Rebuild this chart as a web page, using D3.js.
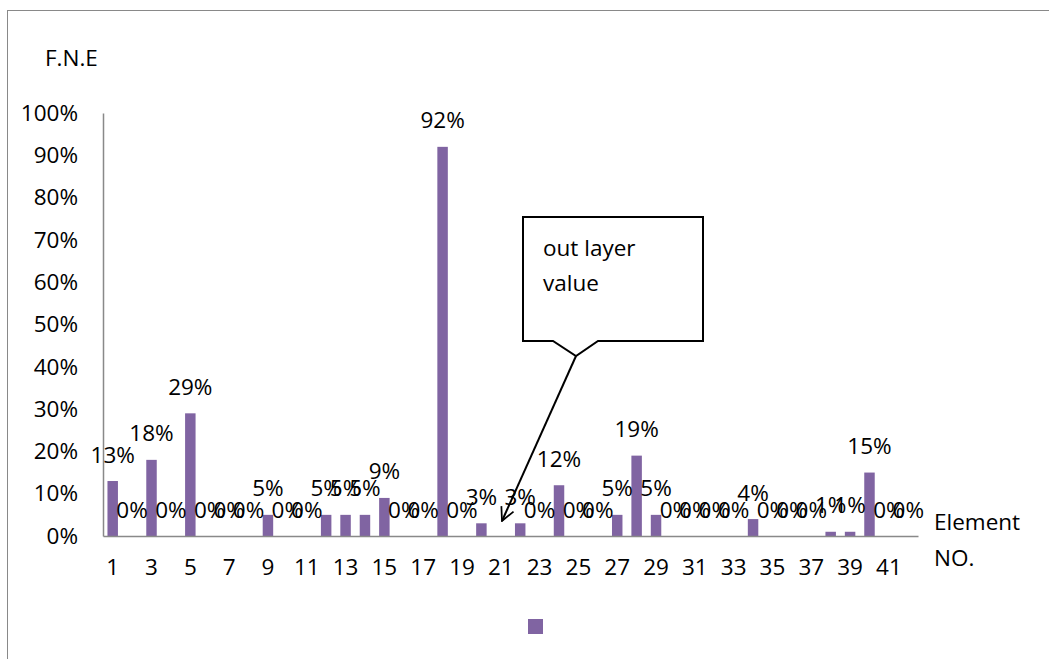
<!DOCTYPE html>
<html>
<head>
<meta charset="utf-8">
<script src="https://cdn.jsdelivr.net/npm/d3@7"></script>
<style>
  html, body { margin: 0; padding: 0; background: #fff; }
  svg text { font-family: "Open Sans", "Noto Sans", sans-serif; fill: #000; }
</style>
</head>
<body>
<svg id="chart" width="1049" height="659"></svg>
<script>
// Element numbers along the x axis
const elements = d3.range(1, 43);
// F.N.E per element, in percent (null = no value recorded)
const fne = [13, 0, 18, 0, 29, 0, 0, 0, 5, 0,
             0, 5, 5, 5, 9, 0, 0, 92, 0, 3,
             null, 3, 0, 12, 0, 0, 5, 19, 5, 0,
             0, 0, 0, 4, 0, 0, 0, 1, 1, 15,
             0, 0];
// Labelled x ticks (every other element)
const xTicks = d3.range(1, 43, 2);
const yTicks = d3.range(0, 101, 10);

const svg = d3.select("#chart");
const purple = "#8064A2";
const axisGray = "#898989";
const fontSize = "22.5px";

// outer chart frame
svg.append("rect")
  .attr("x", 7.5).attr("y", 10.5)
  .attr("width", 1060).attr("height", 680)
  .attr("fill", "none").attr("stroke", axisGray).attr("stroke-width", 1);

const x = d3.scaleBand().domain(elements).range([103, 918]).paddingInner(0.46).paddingOuter(0.23);
const y = d3.scaleLinear().domain([0, 100]).range([536, 113]);

// y axis
const yAxis = svg.append("g")
  .attr("transform", "translate(103,0)")
  .call(d3.axisLeft(y).tickValues(yTicks).tickSize(0).tickPadding(25).tickFormat(d => d + "%"));
yAxis.select(".domain").attr("stroke", axisGray).attr("stroke-width", 1.5);
yAxis.selectAll("text").style("font-size", fontSize);

// bars
const data = elements.map((e, i) => ({ e, v: fne[i] }));
svg.append("g").selectAll("rect")
  .data(data.filter(d => d.v !== null))
  .join("rect")
  .attr("x", d => x(d.e))
  .attr("y", d => y(d.v))
  .attr("width", x.bandwidth())
  .attr("height", d => y(0) - y(d.v))
  .attr("fill", purple);

// x axis
const xAxis = svg.append("g")
  .attr("transform", "translate(0,536)")
  .call(d3.axisBottom(x).tickValues(xTicks).tickSize(0).tickPadding(23));
xAxis.select(".domain").attr("stroke", axisGray).attr("stroke-width", 1.5);
xAxis.selectAll("text").style("font-size", fontSize);

// value labels
svg.append("g").selectAll("text")
  .data(data.filter(d => d.v !== null))
  .join("text")
  .attr("x", d => x(d.e) + x.bandwidth() / 2)
  .attr("y", d => y(d.v) - 27)
  .attr("text-anchor", "middle")
  .attr("dominant-baseline", "central")
  .style("font-size", fontSize)
  .text(d => d.v + "%");

// axis titles
svg.append("text").attr("x", 45).attr("y", 57)
  .attr("dominant-baseline", "central").style("font-size", fontSize).text("F.N.E");
svg.append("text").attr("x", 934).attr("y", 521)
  .attr("dominant-baseline", "central").style("font-size", fontSize).text("Element");
svg.append("text").attr("x", 934).attr("y", 557)
  .attr("dominant-baseline", "central").style("font-size", fontSize).text("NO.");

// legend swatch
svg.append("rect").attr("x", 528).attr("y", 619).attr("width", 15).attr("height", 15).attr("fill", purple);

// callout box with pointer
const callout = d3.path();
callout.moveTo(523, 217);
callout.lineTo(703, 217);
callout.lineTo(703, 341);
callout.lineTo(598, 341);
callout.lineTo(576, 356);
callout.lineTo(553, 341);
callout.lineTo(523, 341);
callout.closePath();
svg.append("path").attr("d", callout.toString())
  .attr("fill", "#fff").attr("stroke", "#000").attr("stroke-width", 2);
svg.append("text").attr("x", 543).attr("y", 247)
  .attr("dominant-baseline", "central").style("font-size", fontSize).text("out layer");
svg.append("text").attr("x", 543).attr("y", 282)
  .attr("dominant-baseline", "central").style("font-size", fontSize).text("value");

// arrow from callout toward the outlier
svg.append("defs").append("marker")
  .attr("id", "arrow").attr("viewBox", "0 0 12 12")
  .attr("refX", 11).attr("refY", 6)
  .attr("markerWidth", 8).attr("markerHeight", 8)
  .attr("markerUnits", "strokeWidth")
  .attr("orient", "auto")
  .append("path").attr("d", "M1,1 L11,6 L1,11")
  .attr("fill", "none").attr("stroke", "#000").attr("stroke-width", 1.3);
svg.append("line")
  .attr("x1", 576).attr("y1", 356).attr("x2", 502).attr("y2", 521)
  .attr("stroke", "#000").attr("stroke-width", 2)
  .attr("marker-end", "url(#arrow)");
</script>
</body>
</html>
